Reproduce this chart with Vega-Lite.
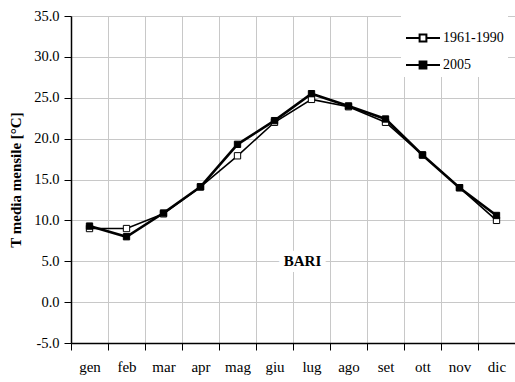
{
  "$schema": "https://vega.github.io/schema/vega-lite/v6.json",
  "width": 444,
  "height": 327,
  "autosize": "none",
  "padding": {"left": 71, "top": 16, "right": 0, "bottom": 39},
  "background": "white",
  "config": {
    "font": "Liberation Serif",
    "view": {"stroke": null},
    "axis": {"gridColor": "#c8c8c8", "gridWidth": 1, "domainColor": "black", "tickColor": "black", "labelColor": "black", "titleColor": "black", "labelFont": "Liberation Serif", "titleFont": "Liberation Serif"},
    "legend": {"labelFont": "Liberation Serif"}
  },
  "datasets": {
    "temps": [
      {"month": "gen", "series": "1961-1990", "value": 9.0},
      {"month": "feb", "series": "1961-1990", "value": 9.0},
      {"month": "mar", "series": "1961-1990", "value": 10.8},
      {"month": "apr", "series": "1961-1990", "value": 14.1},
      {"month": "mag", "series": "1961-1990", "value": 17.9},
      {"month": "giu", "series": "1961-1990", "value": 22.0},
      {"month": "lug", "series": "1961-1990", "value": 24.8},
      {"month": "ago", "series": "1961-1990", "value": 23.9},
      {"month": "set", "series": "1961-1990", "value": 22.0},
      {"month": "ott", "series": "1961-1990", "value": 18.0},
      {"month": "nov", "series": "1961-1990", "value": 14.0},
      {"month": "dic", "series": "1961-1990", "value": 10.0},
      {"month": "gen", "series": "2005", "value": 9.3},
      {"month": "feb", "series": "2005", "value": 8.0},
      {"month": "mar", "series": "2005", "value": 10.9},
      {"month": "apr", "series": "2005", "value": 14.1},
      {"month": "mag", "series": "2005", "value": 19.3},
      {"month": "giu", "series": "2005", "value": 22.2},
      {"month": "lug", "series": "2005", "value": 25.5},
      {"month": "ago", "series": "2005", "value": 24.0},
      {"month": "set", "series": "2005", "value": 22.4},
      {"month": "ott", "series": "2005", "value": 18.0},
      {"month": "nov", "series": "2005", "value": 14.0},
      {"month": "dic", "series": "2005", "value": 10.6}
    ],
    "note": [{"month": "lug", "value": 5, "label": "BARI"}]
  },
  "encoding": {
    "x": {"field": "month", "type": "nominal", "sort": ["gen","feb","mar","apr","mag","giu","lug","ago","set","ott","nov","dic"],
      "scale": {"type": "band", "paddingInner": 0, "paddingOuter": 0},
      "axis": {"title": null, "labelAngle": 0, "tickBand": "extent", "grid": true, "labelFont": "Liberation Serif", "labelFontSize": 15, "labelPadding": 9, "tickSize": 7, "domainWidth": 1.5}},
    "y": {"field": "value", "type": "quantitative",
      "scale": {"domain": [-5, 35], "nice": false, "zero": false},
      "axis": {"title": "T media mensile [°C]", "values": [-5,0,5,10,15,20,25,30,35], "labelExpr": "replace(format(datum.value, '.1f'), '\u2212', '-')", "labelFont": "Liberation Serif", "labelFontSize": 14.5, "titleFont": "Liberation Serif", "titleFontSize": 15, "titleFontWeight": "bold", "titlePadding": 10, "tickSize": 7, "labelPadding": 5, "domainWidth": 1.5}}
  },
  "layer": [
    {
      "data": {"name": "temps"},
      "transform": [{"filter": "datum.series == '1961-1990'"}],
      "mark": {"type": "line", "color": "black", "strokeWidth": 1.6}
    },
    {
      "data": {"name": "temps"},
      "transform": [{"filter": "datum.series == '2005'"}],
      "mark": {"type": "line", "color": "black", "strokeWidth": 2.6}
    },
    {
      "data": {"name": "temps"},
      "mark": {"type": "point", "shape": "square", "filled": true, "stroke": "black", "strokeWidth": 1, "size": 40, "opacity": 1},
      "encoding": {
        "fill": {"field": "series", "type": "nominal", "scale": {"domain": ["1961-1990", "2005"], "range": ["white", "black"]},
          "legend": {"title": null, "orient": "none", "legendX": 330, "legendY": 0, "fillColor": "white", "padding": 4,
            "symbolType": "M-1,0H-0.2M0.2,0H1M-0.2,-0.2H0.2V0.2H-0.2Z", "symbolSize": 1156, "symbolStrokeColor": "black", "symbolStrokeWidth": 2, "symbolOpacity": 1,
            "labelFont": "Liberation Serif", "labelFontSize": 14, "labelColor": "black", "labelOffset": 2, "rowPadding": 1}}
      }
    },
    {
      "data": {"name": "note"},
      "mark": {"type": "text", "fontSize": 15, "fontWeight": "bold", "font": "Liberation Serif", "stroke": "white", "strokeWidth": 12, "strokeJoin": "round", "dx": -9},
      "encoding": {"text": {"field": "label"}}
    },
    {
      "data": {"name": "note"},
      "mark": {"type": "text", "fontSize": 15, "fontWeight": "bold", "font": "Liberation Serif", "color": "black", "dx": -9},
      "encoding": {"text": {"field": "label"}}
    }
  ]
}
